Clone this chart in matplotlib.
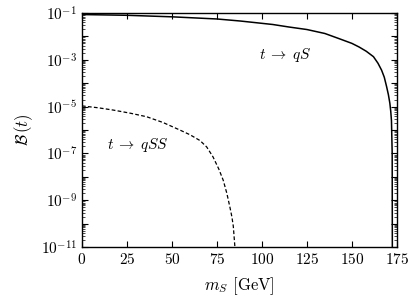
import numpy as np
import matplotlib
matplotlib.use('Agg')
import matplotlib.pyplot as plt
from matplotlib.ticker import LogLocator, FixedLocator, FuncFormatter, NullFormatter

plt.rcParams['mathtext.fontset'] = 'cm'
plt.rcParams['font.family'] = 'serif'
plt.rcParams['font.serif'] = ['cmr10']
plt.rcParams['axes.formatter.use_mathtext'] = True

# values
mS_qS = [0, 25, 50, 75, 88, 106, 115, 125, 135, 143, 150, 154, 158, 162,
         164.5, 166.5, 168, 169.3, 170.3, 171.1, 171.6, 172.0, 172.4, 172.5]
B_qS = [8.5e-2, 7.9e-2, 6.8e-2, 5.5e-2, 4.5e-2, 3.2e-2, 2.5e-2, 1.95e-2, 1.32e-2,
        7.9e-3, 5.0e-3, 3.5e-3, 2.3e-3, 1.35e-3, 7.1e-4, 3.6e-4, 1.8e-4, 7.1e-5,
        3.2e-5, 1.4e-5, 6.3e-6, 2.5e-6, 1e-7, 1e-12]

mS_qSS = [0, 9, 17.4, 27, 35.9, 45, 54.4, 60, 65.6, 69.3, 72.8, 76, 78.5,
          80.5, 82.2, 83.3, 84.1, 85.0, 85.4]
B_qSS = [1.07e-5, 8.9e-6, 7.1e-6, 5.2e-6, 3.7e-6, 2.1e-6, 1.0e-6, 6.3e-7, 3.55e-7,
         1.9e-7, 7.2e-8, 2.2e-8, 7.2e-9, 2.0e-9, 5.2e-10, 2.0e-10, 7.9e-11,
         1e-11, 1e-12]

xticks = [0, 25, 50, 75, 100, 125, 150, 175]

fig = plt.figure(figsize=(4.16, 3.07), dpi=100)
ax = fig.add_axes([0.197, 0.195, 0.757, 0.763])

ax.plot(mS_qS, B_qS, color='black', lw=1.1)
ax.plot(mS_qSS, B_qSS, color='black', lw=0.9, ls=(0, (3, 1.8)))

ax.set_yscale('log')
ax.set_xlim(0, 175)
ax.set_ylim(1e-11, 1e-1)

ax.xaxis.set_major_locator(FixedLocator(xticks))
ax.yaxis.set_major_locator(LogLocator(base=10, numticks=20))
ax.yaxis.set_minor_locator(LogLocator(base=10, subs=np.arange(2, 10), numticks=100))
ax.yaxis.set_minor_formatter(NullFormatter())

def ylab(v, pos):
    e = int(round(np.log10(v)))
    if e % 2 == 0:
        return ''
    return r'$10^{%d}$' % e
ax.yaxis.set_major_formatter(FuncFormatter(ylab))

ax.tick_params(which='both', direction='in', top=True, right=True, labelsize=11)
ax.tick_params(which='major', length=4, width=0.8)
ax.tick_params(which='minor', length=2, width=0.5)
for s in ax.spines.values():
    s.set_linewidth(1.0)

ax.text(113, 10**-2.8, r'$t\;\rightarrow\;qS$', fontsize=11, ha='center', va='center')
ax.text(31, 10**-6.64, r'$t\;\rightarrow\;qSS$', fontsize=11, ha='center', va='center')

ax.set_xlabel(r'$m_S$ [GeV]', fontsize=12, labelpad=6)
ax.set_ylabel(r'$\mathcal{B}\,(t)$', fontsize=12, labelpad=4)

fig.savefig('out.png', dpi=100)
